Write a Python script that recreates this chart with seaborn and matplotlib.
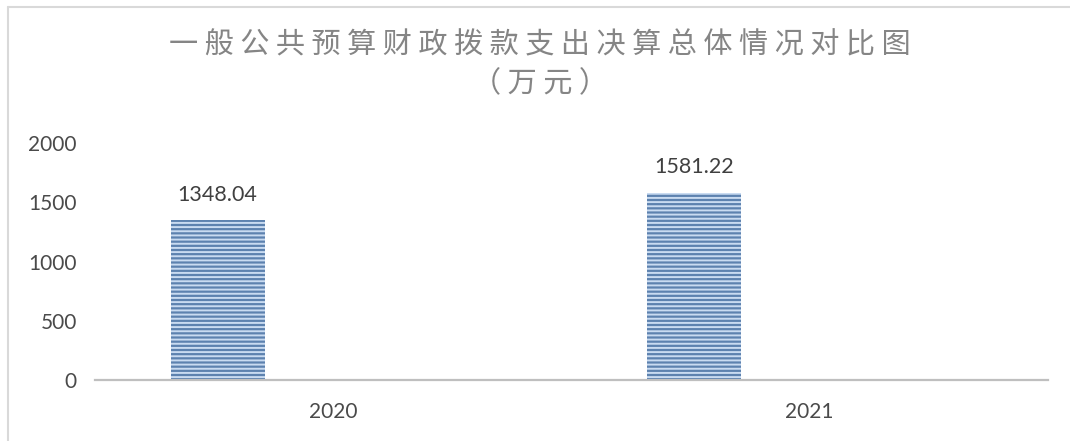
import numpy as np
import pandas as pd
import matplotlib
matplotlib.use("Agg")
import matplotlib.pyplot as plt
from matplotlib.lines import Line2D
import seaborn as sns

# ---- data ----
years = ["2020", "2021"]
series_names = ["决算", "预算"]
final_values = [1348.04, 1581.22]
other_values = [np.nan, np.nan]
y_ticks = [0, 500, 1000, 1500, 2000]
title_line1 = "一般公共预算财政拨款支出决算总体情况对比图"
title_line2 = "（万元）"

df = pd.DataFrame({
    "year": years * 2,
    "series": [series_names[0]] * 2 + [series_names[1]] * 2,
    "value": final_values + other_values,
})

sns.set_theme(style="white")
plt.rcParams["font.family"] = ["Lato", "Noto Sans CJK SC", "DejaVu Sans"]
plt.rcParams["hatch.linewidth"] = 1.4
plt.rcParams["hatch.color"] = "#c9dbf1"

fig = plt.figure(figsize=(10.70, 4.41), dpi=100)
W, H = 1070, 441
ax = fig.add_axes([95 / W, (H - 380) / H, (1048 - 95) / W, (380 - 143) / H])

sns.barplot(data=df, x="year", y="value", hue="series", hue_order=series_names,
            order=years, width=0.97, gap=0.594, palette=["#4f81bd", "#4f81bd"],
            dodge=True, legend=False, ax=ax, errorbar=None)

for bar in ax.patches:
    bar.set_hatch("----")
    bar.set_edgecolor("#c9dbf1")
    bar.set_linewidth(0)

for cont in ax.containers:
    ax.bar_label(cont, labels=[f"{v:.2f}" if np.isfinite(v) else "" for v in cont.datavalues],
                 padding=11, fontsize=15.5, color="#404040")

ax.set_xlim(-0.5, 1.5)
ax.set_ylim(0, 2000)
ax.set_yticks(y_ticks)
ax.set_yticklabels([str(t) for t in y_ticks])
ax.set_xlabel("")
ax.set_ylabel("")
for s in ["top", "right", "left"]:
    ax.spines[s].set_visible(False)
ax.spines["bottom"].set_color("#bfbfbf")
ax.spines["bottom"].set_linewidth(1.6)
ax.tick_params(axis="y", length=0, pad=13, labelsize=15, labelcolor="#4a4a4a")
ax.tick_params(axis="x", length=0, pad=16, labelsize=15, labelcolor="#4a4a4a")
ax.grid(False)

title_font = ["Noto Sans CJK SC", "DejaVu Sans"]
fig.text(540 / W, 1 - 45 / H, " ".join(title_line1), ha="center", va="center",
         fontsize=21, color="#858585", family=title_font)
fig.text(540 / W, 1 - 84 / H, " ".join(title_line2), ha="center", va="center",
         fontsize=21, color="#858585", family=title_font)

# outer chart frame (top and left edges visible)
fig.add_artist(Line2D([8 / W, 1.0], [1 - 7 / H, 1 - 7 / H], transform=fig.transFigure,
                      color="#d9d9d9", linewidth=1.5))
fig.add_artist(Line2D([8 / W, 8 / W], [0, 1 - 7 / H], transform=fig.transFigure,
                      color="#d9d9d9", linewidth=1.5))

fig.savefig("out.png", dpi=100, facecolor="white")
